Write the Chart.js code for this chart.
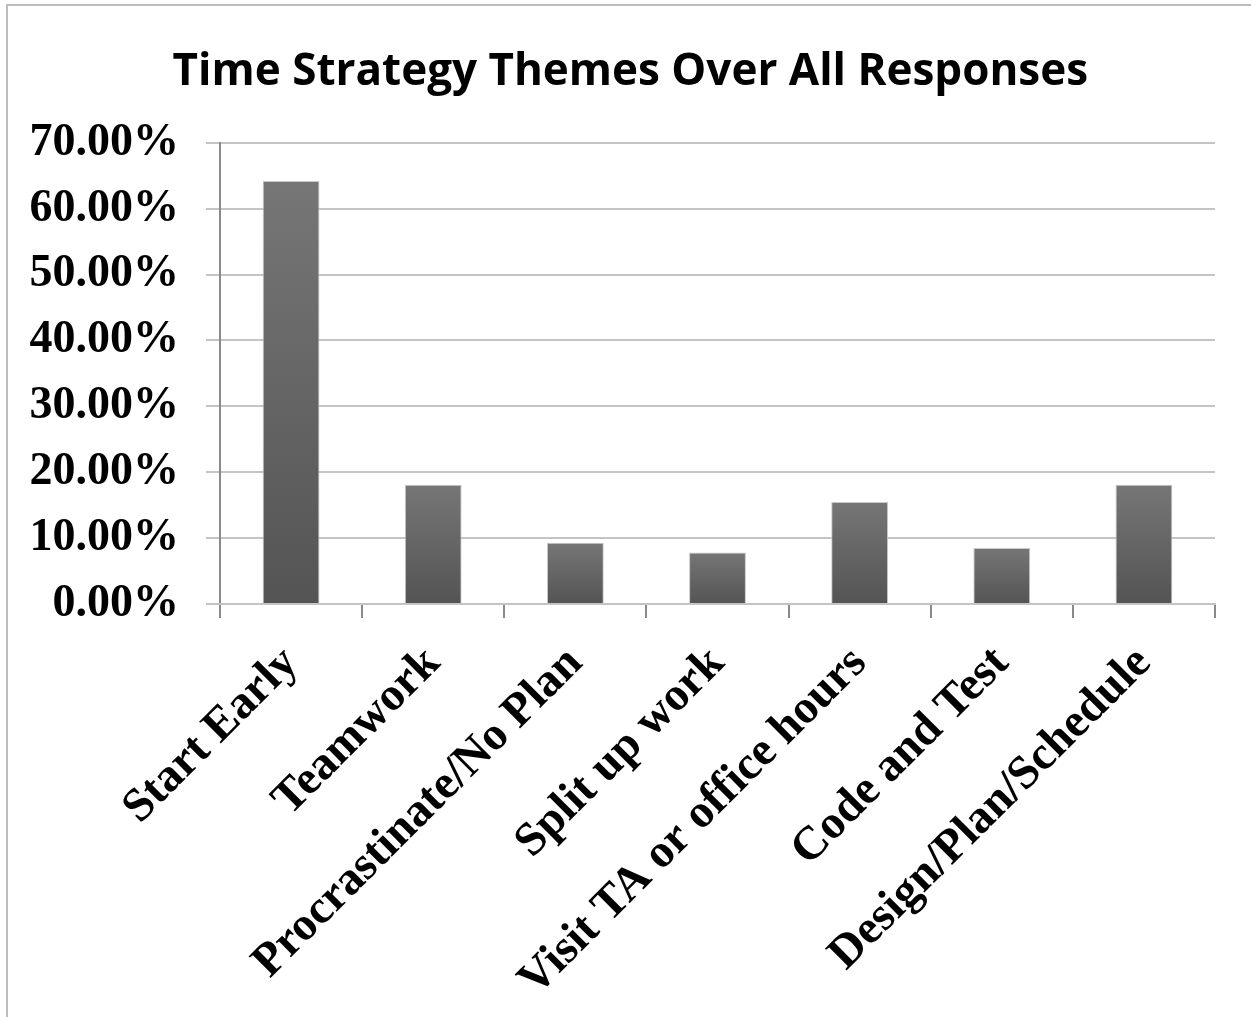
<!DOCTYPE html>
<html>
<head>
<meta charset="utf-8">
<script src="https://cdn.jsdelivr.net/npm/chart.js@4"></script>
<style>
  body { margin: 0; background: #fff; }
  #frame { position: absolute; left: 6px; top: 4px; width: 1300px; height: 1100px;
           border-top: 2px solid #bdbdbd; border-left: 2px solid #bdbdbd; pointer-events: none; }
  canvas { position: absolute; left: 0; top: 0; }
</style>
</head>
<body>
<canvas id="myChart" width="1251" height="1017"></canvas>
<div id="frame"></div>
<script>
const categories = ['Start Early', 'Teamwork', 'Procrastinate/No Plan', 'Split up work',
    'Visit TA or office hours', 'Code and Test', 'Design/Plan/Schedule'];
const shares = [64.2, 18.1, 9.3, 7.8, 15.5, 8.5, 18.1];
const yTicks = [0, 10, 20, 30, 40, 50, 60, 70];

const serif = "'Liberation Serif', 'Times New Roman', serif";

function barFill(ctx) {
    const chart = ctx.chart;
    if (!chart.chartArea || ctx.raw === undefined) {
        return '#666666';
    }
    const y = chart.scales.y;
    const top = y.getPixelForValue(ctx.raw);
    const bottom = y.getPixelForValue(0);
    const g = chart.ctx.createLinearGradient(0, top, 0, bottom);
    g.addColorStop(0, '#767676');
    g.addColorStop(1, '#545454');
    return g;
}

const ctx = document.getElementById('myChart');
new Chart(ctx, {
    type: 'bar',
    data: {
        labels: categories,
        datasets: [{
            label: 'Share of responses',
            data: shares,
            backgroundColor: barFill,
            borderColor: '#c8c8c8',
            borderWidth: 1,
            barPercentage: 0.4,
            categoryPercentage: 1.0
        }]
    },
    options: {
        responsive: false,
        animation: false,
        layout: { padding: { left: 0, right: 36, top: 0, bottom: 0 } },
        plugins: {
            legend: { display: false },
            tooltip: { enabled: false },
            title: {
                display: true,
                // leading spaces nudge the centred title to the right
                text: '\u00A0\u00A0\u00A0\u00A0Time Strategy Themes Over All Responses',
                color: '#000',
                font: { family: "'Open Sans', sans-serif", size: 44, weight: 'bold', lineHeight: 1.2 },
                padding: { top: 46, bottom: 44 }
            }
        },
        scales: {
            y: {
                min: 0,
                max: 70,
                afterBuildTicks: function (scale) {
                    scale.ticks = yTicks.map(v => ({ value: v }));
                },
                afterFit: function (scale) {
                    scale.width = 220;
                },
                ticks: {
                    color: '#000',
                    padding: 27,
                    font: { family: serif, size: 46, weight: 'bold' },
                    callback: v => v.toFixed(2) + '%'
                },
                grid: { color: '#c4c4c4', lineWidth: 2, tickLength: 14 },
                border: { color: '#8a8a8a', width: 2 }
            },
            x: {
                afterFit: function (scale) {
                    scale.height = 1017 - 604;
                },
                ticks: {
                    color: '#000',
                    minRotation: 45,
                    maxRotation: 45,
                    padding: 18,
                    font: { family: serif, size: 47, weight: 'bold' }
                },
                grid: { drawOnChartArea: false, color: '#8a8a8a', lineWidth: 2, tickLength: 14, offset: true },
                border: { color: '#c4c4c4', width: 2 }
            }
        }
    }
});
</script>
</body>
</html>
